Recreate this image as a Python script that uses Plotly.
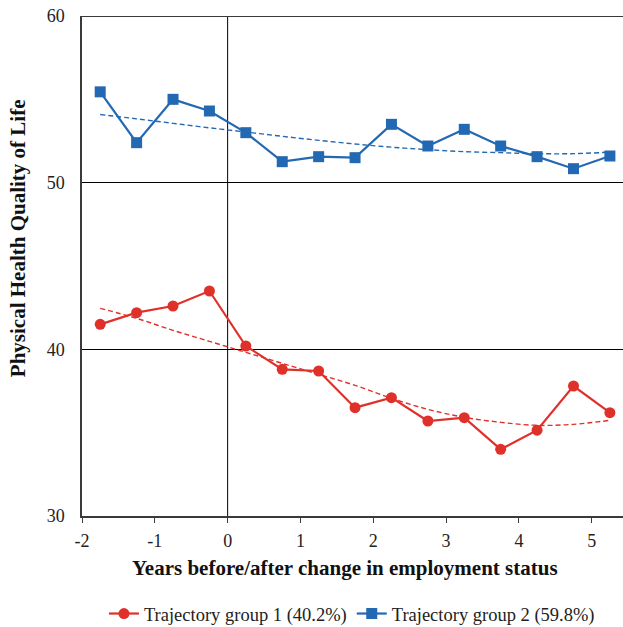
import plotly.graph_objects as go

# Years relative to the change in employment status (half-year midpoints)
years = [-1.75, -1.25, -0.75, -0.25, 0.25, 0.75, 1.25, 1.75,
         2.25, 2.75, 3.25, 3.75, 4.25, 4.75, 5.25]

# Observed mean physical health QoL per trajectory group
group1_phql = [41.5, 42.2, 42.6, 43.5, 40.2, 38.8, 38.7, 36.5,
               37.1, 35.7, 35.9, 34.0, 35.15, 37.8, 36.2]
group2_phql = [55.45, 52.4, 55.0, 54.3, 53.0, 51.26, 51.56, 51.5,
               53.5, 52.2, 53.2, 52.2, 51.56, 50.84, 51.6]

# Fitted (polynomial) trajectories for each group
group1_trend = [42.46, 41.86, 41.14, 40.48, 39.82, 39.16, 38.50, 37.84,
                37.06, 36.40, 35.92, 35.62, 35.44, 35.50, 35.74]
group2_trend = [54.09, 53.83, 53.56, 53.29, 53.04, 52.78, 52.54, 52.32,
                52.13, 51.98, 51.86, 51.80, 51.74, 51.74, 51.83]

group1_name = "Trajectory group 1 (40.2%)"
group2_name = "Trajectory group 2 (59.8%)"

x_title = "Years before/after change in employment status"
y_title = "Physical Health Quality of Life"

y_ticks = [30, 40, 50, 60]
x_ticks = [-2, -1, 0, 1, 2, 3, 4, 5]

RED = "#e0302a"
BLUE = "#2268b2"
AXIS = "#3a3a3a"
SERIF = "Liberation Serif, Times New Roman, serif"

fig = go.Figure()

fig.add_trace(go.Scatter(x=years, y=group1_trend, mode="lines", showlegend=False,
                         line=dict(color=RED, width=1.4, dash="5px,3px",
                                   shape="spline", smoothing=1.0),
                         hoverinfo="skip"))
fig.add_trace(go.Scatter(x=years, y=group2_trend, mode="lines", showlegend=False,
                         line=dict(color=BLUE, width=1.4, dash="5px,3px",
                                   shape="spline", smoothing=1.0),
                         hoverinfo="skip"))

fig.add_trace(go.Scatter(x=years, y=group1_phql, mode="lines+markers",
                         name=group1_name,
                         line=dict(color=RED, width=2.2),
                         marker=dict(symbol="circle", size=11, color=RED)))
fig.add_trace(go.Scatter(x=years, y=group2_phql, mode="lines+markers",
                         name=group2_name,
                         line=dict(color=BLUE, width=2.2),
                         marker=dict(symbol="square", size=11, color=BLUE)))

# Reference line at the time of change
fig.add_shape(type="line", xref="x", yref="paper", x0=0, x1=0, y0=0, y1=1,
              line=dict(color="black", width=1), layer="below")
# Top border at 60
fig.add_shape(type="line", xref="paper", yref="y", x0=0, x1=1, y0=60, y1=60,
              line=dict(color=AXIS, width=2), layer="below")

# Axis titles
fig.add_annotation(text=f"<b>{x_title}</b>", xref="paper", yref="paper",
                   x=0.486, y=-0.104, xanchor="center", yanchor="middle",
                   showarrow=False,
                   font=dict(family=SERIF, size=21, color="#111111"))
fig.add_annotation(text=f"<b>{y_title}</b>", xref="paper", yref="paper",
                   x=-0.118, y=0.556, xanchor="center", yanchor="middle",
                   textangle=-90, showarrow=False,
                   font=dict(family=SERIF, size=21, color="#111111"))

fig.update_layout(
    width=623, height=627,
    margin=dict(l=82, r=0, t=16, b=111, autoexpand=False),
    paper_bgcolor="white", plot_bgcolor="white",
    font=dict(family=SERIF, color="#222222", size=16),
    showlegend=True,
    legend=dict(orientation="h", x=0.499, xanchor="center", y=-0.196,
                yanchor="middle",
                font=dict(family=SERIF, size=18.5, color="#222222"),
                itemwidth=30, tracegroupgap=0),
    xaxis=dict(
        range=[-2, 5.43], tickmode="array", tickvals=x_ticks,
        ticktext=[str(v) for v in x_ticks],
        showgrid=False, zeroline=False,
        showline=True, linecolor=AXIS, linewidth=2,
        ticks="outside", ticklen=5, tickcolor=AXIS, tickwidth=1,
        ticklabelstandoff=2,
        tickfont=dict(family=SERIF, size=18, color="#222222"),
    ),
    yaxis=dict(
        range=[30, 60], tickmode="array", tickvals=y_ticks,
        ticktext=[str(v) for v in y_ticks],
        showgrid=True, gridcolor="black", gridwidth=1,
        zeroline=False,
        showline=True, linecolor=AXIS, linewidth=1.5,
        ticks="", ticklabelstandoff=12,
        tickfont=dict(family=SERIF, size=18, color="#222222"),
    ),
)

fig.write_html("out.html")
